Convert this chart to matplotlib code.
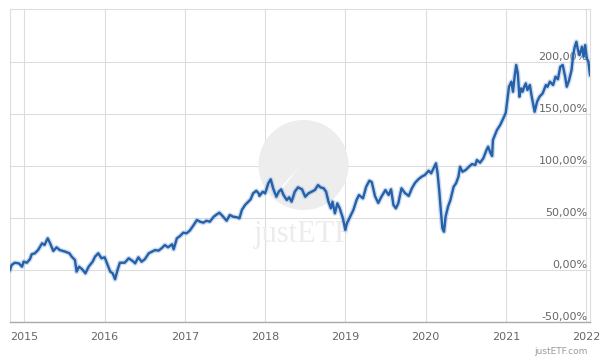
import matplotlib.pyplot as plt
from matplotlib.patches import Circle, Polygon

# fractional year, cumulative performance in %
years = [
    2014.82, 2014.84, 2014.88, 2014.93, 2014.97, 2014.99, 2015.03, 2015.07, 2015.09, 2015.13,
    2015.17, 2015.22, 2015.25, 2015.29, 2015.32, 2015.36, 2015.40, 2015.44, 2015.51, 2015.56,
    2015.59, 2015.63, 2015.65, 2015.68, 2015.72, 2015.76, 2015.80, 2015.85, 2015.88, 2015.92,
    2015.96, 2016.00, 2016.03, 2016.07, 2016.10, 2016.13, 2016.16, 2016.19, 2016.25, 2016.30,
    2016.36, 2016.38, 2016.42, 2016.46, 2016.50, 2016.55, 2016.59, 2016.63, 2016.67, 2016.71,
    2016.75, 2016.79, 2016.84, 2016.86, 2016.90, 2016.94, 2016.98, 2017.02, 2017.06, 2017.11,
    2017.15, 2017.19, 2017.23, 2017.27, 2017.31, 2017.36, 2017.40, 2017.43, 2017.47, 2017.52,
    2017.56, 2017.60, 2017.65, 2017.68, 2017.71, 2017.75, 2017.79, 2017.82, 2017.85, 2017.89,
    2017.92, 2017.93, 2017.97, 2018.00, 2018.04, 2018.07, 2018.10, 2018.14, 2018.17, 2018.20,
    2018.23, 2018.27, 2018.30, 2018.33, 2018.37, 2018.41, 2018.46, 2018.50, 2018.54, 2018.58,
    2018.62, 2018.66, 2018.69, 2018.73, 2018.76, 2018.79, 2018.82, 2018.84, 2018.87, 2018.90,
    2018.93, 2018.97, 2019.00, 2019.02, 2019.06, 2019.10, 2019.14, 2019.17, 2019.22, 2019.26,
    2019.30, 2019.33, 2019.37, 2019.41, 2019.45, 2019.50, 2019.54, 2019.57, 2019.60, 2019.63,
    2019.66, 2019.70, 2019.74, 2019.79, 2019.83, 2019.87, 2019.91, 2019.95, 2019.99, 2020.04,
    2020.07, 2020.10, 2020.13, 2020.15, 2020.17, 2020.19, 2020.21, 2020.23, 2020.25, 2020.28,
    2020.31, 2020.35, 2020.38, 2020.41, 2020.43, 2020.46, 2020.50, 2020.55, 2020.58, 2020.62,
    2020.64, 2020.68, 2020.72, 2020.76, 2020.78, 2020.81, 2020.83, 2020.84, 2020.89, 2020.93,
    2020.97, 2021.00, 2021.02, 2021.04, 2021.07, 2021.09, 2021.11, 2021.13, 2021.15, 2021.17,
    2021.19, 2021.21, 2021.23, 2021.25, 2021.27, 2021.30, 2021.32, 2021.34, 2021.36, 2021.39,
    2021.42, 2021.46, 2021.50, 2021.52, 2021.55, 2021.59, 2021.62, 2021.65, 2021.68, 2021.71,
    2021.74, 2021.76, 2021.79, 2021.82, 2021.84, 2021.86, 2021.88, 2021.90, 2021.92, 2021.95,
    2021.97, 2021.99, 2022.01, 2022.03, 2022.05,
]
perf = [
    0.0, 4.8, 7.0, 6.4, 3.2, 8.0, 7.0, 10.6, 15.1, 16.1,
    19.2, 25.7, 24.0, 30.5, 25.7, 18.3, 21.8, 19.2, 17.6, 16.1,
    12.8, 9.6, -1.6, 3.2, 0.7, -3.2, 3.2, 8.0, 12.8, 16.1,
    11.3, 12.2, 6.4, -1.6, -3.2, -8.9, 0.0, 7.0, 7.0, 11.3,
    8.0, 6.4, 12.2, 8.0, 10.3, 16.1, 17.6, 19.2, 18.6, 20.9,
    24.0, 21.8, 24.7, 19.9, 30.5, 32.7, 35.9, 35.3, 37.8, 43.3,
    48.1, 46.4, 45.5, 47.4, 46.4, 51.3, 53.6, 55.1, 51.9, 47.4,
    52.9, 51.3, 50.7, 49.7, 57.7, 62.5, 65.7, 68.0, 73.7, 76.2,
    73.7, 71.2, 75.3, 73.7, 83.4, 87.2, 78.6, 70.5, 75.3, 77.6,
    72.1, 67.3, 69.9, 65.7, 75.3, 79.5, 77.6, 70.5, 73.7, 75.3,
    76.9, 81.7, 79.5, 78.6, 75.3, 65.7, 59.3, 65.7, 54.5, 64.1,
    59.3, 49.7, 38.5, 44.9, 51.3, 57.7, 67.3, 72.1, 68.9, 80.1,
    85.9, 84.5, 71.0, 64.5, 70.5, 76.9, 72.1, 77.6, 62.5, 59.3,
    64.1, 78.6, 74.3, 71.2, 78.6, 83.9, 87.2, 89.7, 91.3, 95.5,
    93.0, 97.8, 102.6, 93.0, 76.9, 57.7, 40.1, 36.8, 51.3, 60.9,
    67.3, 80.1, 83.4, 89.7, 99.3, 94.5, 96.2, 100.0, 101.9, 101.0,
    105.8, 103.2, 107.4, 115.4, 118.6, 112.5, 109.6, 125.0, 134.6, 139.4,
    145.9, 151.2, 163.5, 176.2, 181.1, 171.4, 185.9, 197.1, 189.1, 166.6,
    174.7, 171.4, 176.2, 179.5, 173.1, 177.9, 168.3, 160.3, 152.2, 161.8,
    166.6, 169.9, 177.9, 176.2, 181.1, 177.9, 185.9, 183.4, 195.5, 197.1,
    185.9, 176.2, 182.7, 192.3, 206.7, 214.7, 219.5, 211.5, 206.7, 214.7,
    205.1, 216.3, 203.6, 200.3, 187.5,
]
year_ticks = [2015, 2016, 2017, 2018, 2019, 2020, 2021, 2022]
pct_ticks = [-50, 0, 50, 100, 150, 200]

fig = plt.figure(figsize=(6, 3.6), dpi=100)
ax = fig.add_axes([10 / 600, 38 / 360, 580 / 600, 313 / 360])

# watermark: grey disc (over the grid) with a white swoosh, plus faint logo text
ax.add_artist(Circle((3.035, 1.95), 0.45, transform=fig.dpi_scale_trans,
                     facecolor="#ededed", edgecolor="none", zorder=1))
swoosh = [(3.00, 1.94), (2.80, 1.72), (2.71, 1.62), (2.78, 1.66), (2.86, 1.76)]
ax.add_artist(Polygon(swoosh, closed=True, transform=fig.dpi_scale_trans,
                      facecolor="white", edgecolor="none", zorder=1.1))
ax.text(0.506, 0.28, "justETF", transform=ax.transAxes, ha="center", va="center",
        fontsize=22, family="Liberation Serif", color="#ececec", zorder=1.2)

# line with a soft halo
ax.plot(years, perf, color="#8fb3dc", lw=3.6, alpha=0.45, solid_joinstyle="round", zorder=3)
ax.plot(years, perf, color="#2560a8", lw=1.7, solid_joinstyle="round", zorder=4)

ax.set_xlim(2014.82, 2022.05)
ax.set_ylim(-50, 251)

ax.set_xticks(year_ticks)
ax.set_xticklabels([str(y) for y in year_ticks], fontsize=8, color="#666666")
ax.set_yticks(pct_ticks)
ax.set_yticklabels([])
ax.tick_params(axis="both", length=0, pad=7)
ax.grid(True, color="#dddddd", lw=0.8)
ax.set_axisbelow(True)

for s in ["left", "top", "right"]:
    ax.spines[s].set_color("#dddddd")
    ax.spines[s].set_linewidth(0.8)
ax.spines["bottom"].set_color("#aaaaaa")
ax.spines["bottom"].set_linewidth(1.0)

for v in pct_ticks:
    ax.text(0.996, v + 1.5, f"{v},00%", transform=ax.get_yaxis_transform(),
            ha="right", va="baseline", fontsize=8, color="#666666", zorder=2)

fig.text(588 / 600, 1 - 352 / 360, "justETF.com", ha="right", va="center",
         fontsize=6.5, color="#999999")

fig.savefig("out.png", dpi=100)
plt.close(fig)
